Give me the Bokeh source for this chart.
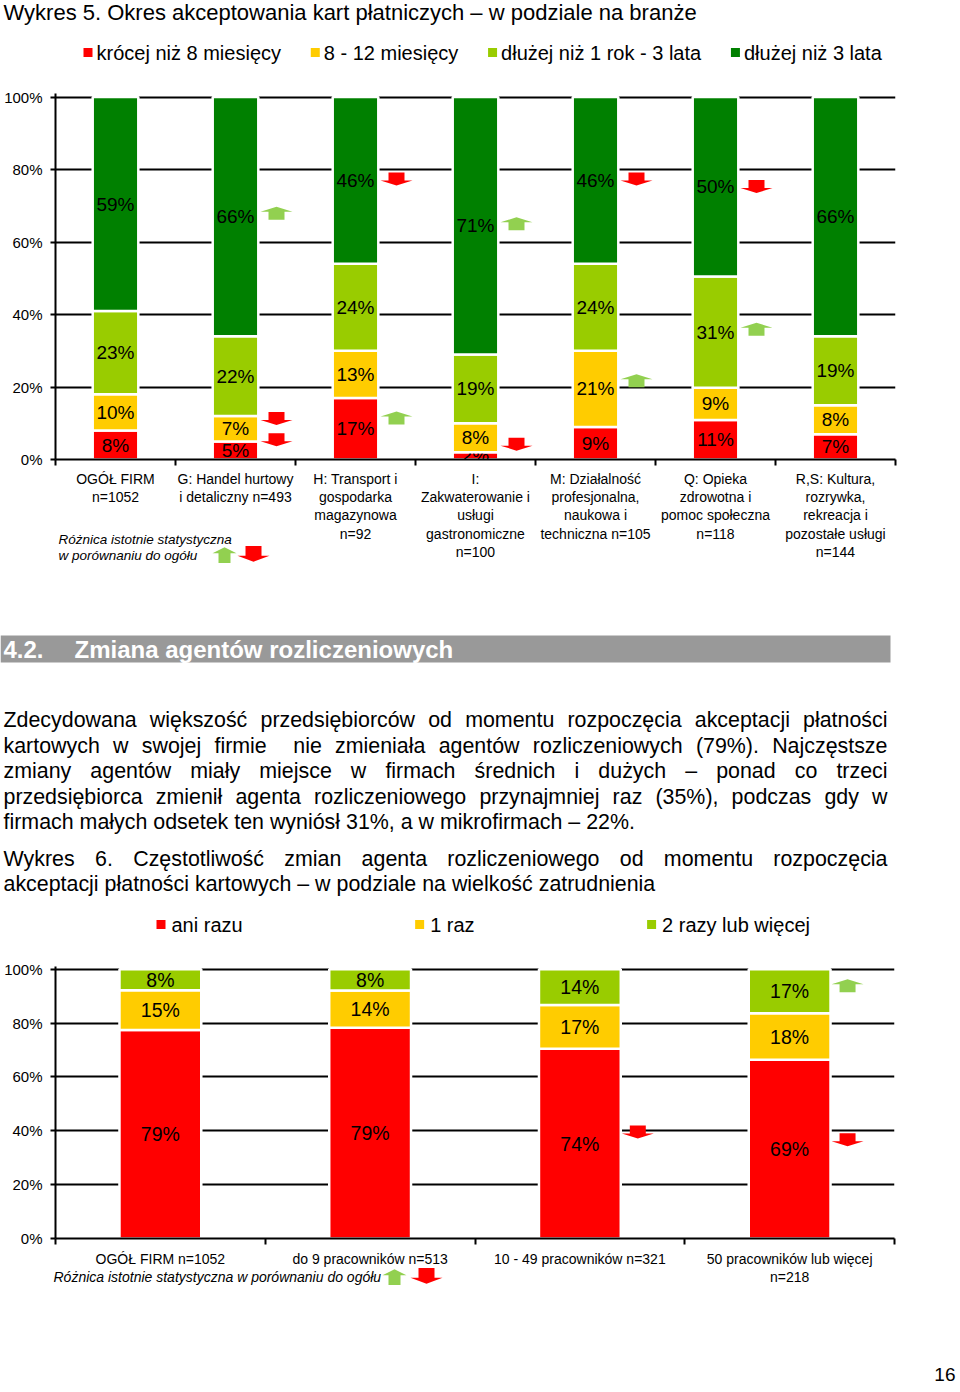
from bokeh.plotting import figure
from bokeh.layouts import column
from bokeh.models import (Range1d, FixedTicker, PrintfTickFormatter, GridBox,
                          ColumnDataSource, Plot)
from bokeh.core.properties import value
from bokeh.embed import file_html
from bokeh.resources import INLINE

FONT = "Liberation Sans"
W = 960
FA = {"frame_align": False} if "frame_align" in Plot.properties() else {}

# ---------------- data: chart 1 (Wykres 5) ----------------
c1_title = "Wykres 5. Okres akceptowania kart płatniczych – w podziale na branże"
c1_categories = [
    "OGÓŁ FIRM\nn=1052",
    "G: Handel hurtowy\ni detaliczny n=493",
    "H: Transport i\ngospodarka\nmagazynowa\nn=92",
    "I:\nZakwaterowanie i\nusługi\ngastronomiczne\nn=100",
    "M: Działalność\nprofesjonalna,\nnaukowa i\ntechniczna n=105",
    "Q: Opieka\nzdrowotna i\npomoc społeczna\nn=118",
    "R,S: Kultura,\nrozrywka,\nrekreacja i\npozostałe usługi\nn=144",
]
c1_series = ["krócej niż 8 miesięcy", "8 - 12 miesięcy",
             "dłużej niż 1 rok - 3 lata", "dłużej niż 3 lata"]
c1_lt8m = [8, 5, 17, 2, 9, 11, 7]
c1_8to12m = [10, 7, 13, 8, 21, 9, 8]
c1_1to3y = [23, 22, 24, 19, 24, 31, 19]
c1_gt3y = [59, 66, 46, 71, 46, 50, 66]
c1_colors = ["#FF0000", "#FFCC00", "#99CC00", "#008000"]
# significance markers: category index, level (%), direction
c1_sig_cat = [1, 1, 1, 2, 2, 3, 3, 4, 4, 5, 5]
c1_sig_level = [68.1, 11.2, 5.3, 77.3, 11.6, 65.2, 4.1, 77.3, 21.9, 75.2, 36.1]
c1_sig_dir = ["up", "down", "down", "down", "up", "up", "down", "down", "up", "down", "up"]

# ---------------- data: chart 2 (Wykres 6) ----------------
c2_title = ["Wykres 6. Częstotliwość zmian agenta rozliczeniowego od momentu rozpoczęcia",
            "akceptacji płatności kartowych – w podziale na wielkość zatrudnienia"]
c2_categories = ["OGÓŁ FIRM n=1052", "do 9 pracowników n=513",
                 "10 - 49 pracowników n=321", "50 pracowników lub więcej\nn=218"]
c2_series = ["ani razu", "1 raz", "2 razy lub więcej"]
c2_never = [79, 79, 74, 69]
c2_once = [15, 14, 17, 18]
c2_twice_plus = [8, 8, 14, 17]
c2_colors = ["#FF0000", "#FFCC00", "#99CC00"]
c2_sig_cat = [2, 3, 3]
c2_sig_level = [39.4, 36.5, 94.0]
c2_sig_dir = ["down", "down", "up"]

y_ticks = [0, 20, 40, 60, 80, 100]
note_lines = ["Różnica istotnie statystyczna", "w porównaniu do ogółu"]
note_one_line = "Różnica istotnie statystyczna w porównaniu do ogółu"

section_no = "4.2."
section_title = "Zmiana agentów rozliczeniowych"
paragraph = [
    ("Zdecydowana większość przedsiębiorców od momentu rozpoczęcia akceptacji płatności", True),
    ("kartowych w swojej firmie  nie zmieniała agentów rozliczeniowych (79%). Najczęstsze", True),
    ("zmiany agentów miały miejsce w firmach średnich i dużych – ponad co trzeci", True),
    ("przedsiębiorca zmienił agenta rozliczeniowego przynajmniej raz (35%), podczas gdy w", True),
    ("firmach małych odsetek ten wyniósł 31%, a w mikrofirmach – 22%.", False),
]
page_no = "16"

UP_COLOR = "#92D050"
DOWN_COLOR = "#FF0000"

# ---------------- helpers ----------------
AW = {' ': 278, '%': 889, '(': 333, ')': 333, ',': 278, '-': 333, '.': 278, ':': 278,
      '=': 584, '–': 556,
      'a': 556, 'b': 556, 'c': 500, 'd': 556, 'e': 556, 'f': 278, 'g': 556, 'h': 556,
      'i': 222, 'j': 222, 'k': 500, 'l': 222, 'm': 833, 'n': 556, 'o': 556, 'p': 556,
      'q': 556, 'r': 333, 's': 500, 't': 278, 'u': 556, 'v': 500, 'w': 722, 'x': 500,
      'y': 500, 'z': 500,
      'A': 667, 'B': 667, 'C': 722, 'D': 722, 'E': 667, 'F': 611, 'G': 778, 'H': 722,
      'I': 278, 'J': 500, 'K': 667, 'L': 556, 'M': 833, 'N': 722, 'O': 778, 'P': 667,
      'Q': 778, 'R': 722, 'S': 667, 'T': 611, 'U': 722, 'V': 667, 'W': 944, 'X': 667,
      'Y': 667, 'Z': 611,
      'ą': 556, 'ć': 500, 'ę': 556, 'ł': 222, 'ń': 556, 'ó': 556, 'ś': 500, 'ź': 500,
      'ż': 500, 'Ł': 556, 'Ó': 778, 'Ś': 667, 'Ż': 611, 'Ć': 722}
for d in "0123456789":
    AW[d] = 556


def tw(s, size):
    return sum(AW.get(ch, 556) for ch in s) / 1000.0 * size


def text_fig(h, transparent=False):
    p = figure(width=W, height=h, x_range=Range1d(0, W), y_range=Range1d(h, 0),
               output_backend="svg", toolbar_location=None, min_border=0,
               x_axis_type=None, y_axis_type=None, **FA)
    p.grid.visible = False
    p.outline_line_color = None
    if transparent:
        p.background_fill_color = None
        p.border_fill_color = None
    return p


def manual_legend(p, names, colors, x0, y, size, spacing, gap, sq=9):
    xs, txs = [], []
    x = x0
    for n in names:
        xs.append(x + sq / 2)
        txs.append(x + sq + gap)
        x = x + sq + gap + tw(n, size) + spacing
    p.rect(x=xs, y=[y] * len(xs), width=sq, height=sq, fill_color=colors, line_color=None)
    p.text(x=txs, y=[y] * len(xs), text=names, text_font=value(FONT),
           text_font_size=f"{size}px", text_baseline="middle", text_align="left",
           text_color="black")


def stacked(p, series_vals, colors, width, fontsize):
    n = len(series_vals[0])
    totals = [sum(s[i] for s in series_vals) for i in range(n)]
    bottoms = [0.0] * n
    xs = [i + 0.5 for i in range(n)]
    for vals, col in zip(series_vals, colors):
        tops = [b + v / t * 100.0 for b, v, t in zip(bottoms, vals, totals)]
        src = ColumnDataSource(dict(x=xs, bottom=bottoms, top=tops,
                                    mid=[(b + t) / 2 for b, t in zip(bottoms, tops)],
                                    lab=[f"{v}%" for v in vals]))
        p.vbar(x="x", bottom="bottom", top="top", width=width, source=src,
               fill_color=col, line_color="white", line_width=2.5)
        p.text(x="x", y="mid", text="lab", source=src, text_align="center",
               text_baseline="middle", text_font=value(FONT), text_font_size=fontsize,
               text_color="black")
        bottoms = tops


ARROW = [(-8, 7), (8, 7), (8, -1), (16, -1), (0, -6), (-16, -1), (-8, -1)]  # down arrow, y up


def sig_arrows(p, cats, levels, dirs, xoff_px, px_x, px_y):
    xs_l, ys_l, cols = [], [], []
    for c, lv, d in zip(cats, levels, dirs):
        cx = c + 0.5 + xoff_px / px_x
        sgn = 1 if d == "down" else -1
        xs_l.append([cx + dx / px_x for dx, dy in ARROW])
        ys_l.append([lv + sgn * dy / px_y for dx, dy in ARROW])
        cols.append(DOWN_COLOR if d == "down" else UP_COLOR)
    p.patches(xs=xs_l, ys=ys_l, fill_color=cols, line_color=None)


def note_block(p, lines, x, y0, dy, size, cx_up, cx_down, cy):
    # pixel coordinates, y downwards
    p.text(x=[x] * len(lines), y=[y0 + dy * i for i in range(len(lines))], text=lines,
           text_font=value(FONT), text_font_size=size, text_font_style="italic",
           text_baseline="middle", text_align="left", text_color="black")
    up_x = [cx_up + ax * 0.75 for ax, ay in ARROW]
    up_y = [cy + ay * 1.2 for ax, ay in ARROW]
    dn_x = [cx_down + ax for ax, ay in ARROW]
    dn_y = [cy - ay * 1.2 for ax, ay in ARROW]
    p.patches(xs=[up_x, dn_x], ys=[up_y, dn_y], fill_color=[UP_COLOR, DOWN_COLOR],
              line_color=None)


def style_chart(p, ncat, labels, standoff):
    p.outline_line_color = None
    p.xgrid.visible = False
    p.ygrid.ticker = FixedTicker(ticks=y_ticks)
    p.ygrid.grid_line_color = "black"
    p.ygrid.grid_line_width = 2
    ya = p.yaxis[0]
    ya.ticker = FixedTicker(ticks=y_ticks)
    ya.formatter = PrintfTickFormatter(format="%d%%")
    ya.major_label_text_font = FONT
    ya.major_label_text_font_size = "15px"
    ya.major_label_text_color = "black"
    ya.major_tick_out = 5
    ya.major_tick_in = 0
    ya.major_tick_line_width = 2
    ya.minor_tick_out = 0
    ya.axis_line_width = 2
    ya.axis_line_color = "black"
    ya.major_label_standoff = 8
    xa = p.xaxis[0]
    xa.ticker = FixedTicker(ticks=[i + 0.5 for i in range(ncat)],
                            minor_ticks=list(range(ncat + 1)))
    xa.major_label_overrides = {i + 0.5: lab for i, lab in enumerate(labels)}
    xa.major_label_text_font = FONT
    xa.major_label_text_font_size = "14px"
    xa.major_label_text_color = "black"
    xa.major_label_text_line_height = 1.15
    xa.major_label_standoff = standoff
    xa.major_tick_out = 0
    xa.major_tick_in = 0
    xa.minor_tick_out = 6
    xa.minor_tick_in = 0
    xa.minor_tick_line_width = 2
    xa.minor_tick_line_color = "black"
    xa.axis_line_width = 2
    xa.axis_line_color = "black"


# ---------------- figure A: title + legend of chart 1 ----------------
pa = text_fig(80)
pa.text(x=[3], y=[12], text=[c1_title], text_font=value(FONT), text_font_size="22px",
        text_baseline="middle", text_color="black")
manual_legend(pa, c1_series, c1_colors, 83, 52, 20, 29.8, 4)

# ---------------- chart 1 ----------------
H1 = 530
p1 = figure(width=W, height=H1, x_range=Range1d(0, 7), y_range=Range1d(0, 101),
            output_backend="svg", toolbar_location=None,
            min_border_left=55, min_border_right=W - 895, min_border_top=13,
            min_border_bottom=151, **FA)
style_chart(p1, 7, c1_categories, 5)
stacked(p1, [c1_lt8m, c1_8to12m, c1_1to3y, c1_gt3y], c1_colors, 0.38, "19px")
sig_arrows(p1, c1_sig_cat, c1_sig_level, c1_sig_dir, 41, 120, 3.62)

o1 = text_fig(H1, transparent=True)
note_block(o1, note_lines, 58, 459, 16, "13.5px", 224, 253, 474)
g1 = GridBox(children=[(p1, 0, 0), (o1, 0, 0)])

# ---------------- figure B: section text ----------------
pb = text_fig(340)
pb.quad(left=[0], right=[890], top=[25], bottom=[52], fill_color="#999999", line_color=None)
pb.text(x=[3, 74], y=[39, 39], text=[section_no, section_title], text_font=value(FONT),
        text_font_size="24px", text_font_style="bold", text_baseline="middle",
        text_color="white")

P_SIZE = 21.4
wx, wy, wt = [], [], []
lines_all = [(t, j, y) for (t, j), y in zip(paragraph, [109, 135, 160, 186, 211])]
lines_all += [(c2_title[0], True, 248), (c2_title[1], False, 273)]
for text, just, y in lines_all:
    words = text.split(" ")
    widths = [tw(w, P_SIZE) for w in words]
    if just:
        gap = (887 - 3 - sum(widths)) / (len(words) - 1)
    else:
        gap = tw(" ", P_SIZE)
    x = 3
    for w, wd in zip(words, widths):
        if w:
            wx.append(x)
            wy.append(y)
            wt.append(w)
        x += wd + gap
pb.text(x=wx, y=wy, text=wt, text_font=value(FONT), text_font_size=f"{P_SIZE}px",
        text_baseline="middle", text_align="left", text_color="black")
manual_legend(pb, c2_series, c2_colors, 156, 314, 20, 172.5, 6)

# ---------------- chart 2 ----------------
H2 = 350
p2 = figure(width=W, height=H2, x_range=Range1d(0, 4), y_range=Range1d(0, 101),
            output_backend="svg", toolbar_location=None,
            min_border_left=55, min_border_right=W - 894, min_border_top=16,
            min_border_bottom=H2 - 16 - 272, **FA)
style_chart(p2, 4, c2_categories, 6)
stacked(p2, [c2_never, c2_once, c2_twice_plus], c2_colors, 0.39, "19.5px")
sig_arrows(p2, c2_sig_cat, c2_sig_level, c2_sig_dir, 58, 210, 2.693)

o2 = text_fig(H2, transparent=True)
note_block(o2, [note_one_line], 53, 326, 0, "14px", 394, 426, 326)
g2 = GridBox(children=[(p2, 0, 0), (o2, 0, 0)])

# ---------------- page number ----------------
pc = text_fig(88)
pc.text(x=[955], y=[74], text=[page_no], text_font=value(FONT), text_font_size="19px",
        text_align="right", text_baseline="middle", text_color="black")

layout = column(pa, g1, pb, g2, pc, spacing=0)
open("out.html", "w").write(file_html(layout, INLINE))
